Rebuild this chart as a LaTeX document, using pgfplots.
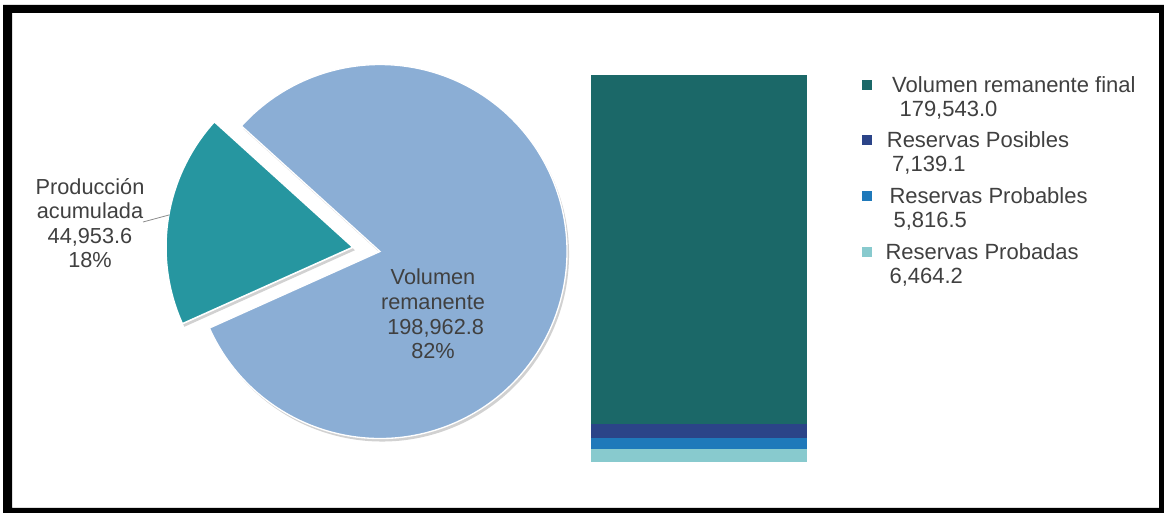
\documentclass[border=0pt]{standalone}
\usepackage{pgfplots}
\pgfplotsset{compat=1.18}
\usepackage{fontspec}
\setmainfont{Liberation Sans}
\definecolor{pieblue}{RGB}{139,174,213}
\definecolor{pieteal}{RGB}{38,150,160}
\definecolor{barteal}{RGB}{27,104,104}
\definecolor{bardark}{RGB}{43,68,136}
\definecolor{barblue}{RGB}{31,121,186}
\definecolor{barlight}{RGB}{136,202,206}
\definecolor{txt}{RGB}{64,64,64}
\begin{document}
\begin{tikzpicture}[x=0.75pt,y=0.75pt]
\useasboundingbox (0,0) rectangle (1164,513);
\fill[black, even odd rule] (3,0) rectangle (1164,508) (12,5) rectangle (1159,500);
% pie data (thousands)
\def\vprod{44.9536}
\def\vrem{198.9628}
\pgfmathsetmacro{\angprod}{360*\vprod/(\vprod+\vrem)}
\pgfmathsetmacro{\sa}{171-\angprod/2}
\pgfmathsetmacro{\ea}{171+\angprod/2}
\pgfmathsetmacro{\eb}{\sa+360}
\pgfmathsetmacro{\cx}{380}
\pgfmathsetmacro{\cy}{261.5}
\pgfmathsetmacro{\R}{187}
\pgfmathsetmacro{\tx}{\cx+27.4*cos(171)}
\pgfmathsetmacro{\ty}{\cy+27.4*sin(171)}
\pgfmathsetmacro{\mx}{\cx+\R*cos(\ea)}
\pgfmathsetmacro{\my}{\cy+\R*sin(\ea)}
\pgfmathsetmacro{\px}{\tx+\R*cos(\sa)}
\pgfmathsetmacro{\py}{\ty+\R*sin(\sa)}
\begin{axis}[at={(0pt,0pt)}, anchor=south west, scale only axis,
  width=873pt, height=384.75pt, xmin=0, xmax=1164, ymin=0, ymax=513,
  hide axis, clip=false,
  legend cell align=left,
  legend image code/.code={\fill[#1] (0pt,5.5pt) rectangle (7.5pt,13pt);},
  legend style={draw=none, fill=none, inner sep=0pt, at={(0.7405,0.852)}, anchor=north west,
    row sep=10.3pt, column sep=10pt, text=txt, font=\fontsize{16.5}{18}\selectfont,
    nodes={align=left, inner sep=0pt}},
  ]
% shadows
\fill[black!18] (axis cs:\cx+2,\cy-3) -- (axis cs:\mx+2,\my-3) arc[start angle=\ea, end angle=\eb, radius=140.25pt] -- cycle;
\fill[black!18] (axis cs:\tx+2,\ty-3) -- (axis cs:\px+2,\py-3) arc[start angle=\sa, end angle=\ea, radius=140.25pt] -- cycle;
% slices
\fill[pieblue, draw=white, line width=1pt] (axis cs:\cx,\cy) -- (axis cs:\mx,\my) arc[start angle=\ea, end angle=\eb, radius=140.25pt] -- cycle;
\fill[pieteal, draw=white, line width=1.2pt] (axis cs:\tx,\ty) -- (axis cs:\px,\py) arc[start angle=\sa, end angle=\ea, radius=140.25pt] -- cycle;
% labels
\draw[black!45, line width=0.6pt] (axis cs:143,291) -- (axis cs:169,298);
\node[align=center, text=txt, font=\fontsize{16.3}{18.4}\selectfont] at (axis cs:90,290) {Producción\\acumulada\\44,953.6\\18\%};
\node[align=center, text=txt, font=\fontsize{16.3}{18.4}\selectfont] at (axis cs:433,199) {Volumen\\remanente\\\hspace*{4pt}198,962.8\\82\%};
% legend
\addlegendimage{fill=barteal, draw=none}
\addlegendentry{\hspace*{5pt}Volumen remanente final\\\hspace*{10.5pt}179,543.0}
\addlegendimage{fill=bardark, draw=none}
\addlegendentry{\hspace*{1pt}Reservas Posibles\\\hspace*{5pt}7,139.1}
\addlegendimage{fill=barblue, draw=none}
\addlegendentry{\hspace*{3pt}Reservas Probables\\\hspace*{6pt}5,816.5}
\addlegendimage{fill=barlight, draw=none}
\addlegendentry{Reservas Probadas\\\hspace*{3pt}6,464.2}
\end{axis}
\begin{axis}[at={(443.25pt,38.25pt)}, anchor=south west, scale only axis,
  width=162pt, height=290.25pt, xmin=-0.5, xmax=0.5, ymin=0, ymax=198962.8,
  hide axis, ybar stacked, bar width=1, clip=false]
\addplot[fill=barlight, draw=none] coordinates {(0,6464.2)};
\addplot[fill=barblue, draw=none] coordinates {(0,5816.5)};
\addplot[fill=bardark, draw=none] coordinates {(0,7139.1)};
\addplot[fill=barteal, draw=none] coordinates {(0,179543.0)};
\end{axis}
\end{tikzpicture}
\end{document}
